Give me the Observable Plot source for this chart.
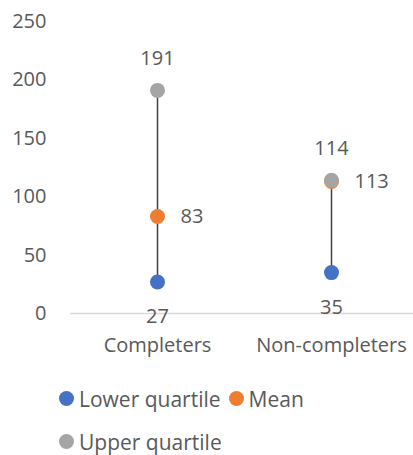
<!DOCTYPE html>
<html>
<head>
<meta charset="utf-8">
<script src="https://cdn.jsdelivr.net/npm/d3@7"></script>
<script src="https://cdn.jsdelivr.net/npm/@observablehq/plot@0.6"></script>
<style>
  body { margin: 0; background: #fff; font-family: "Open Sans", sans-serif; color: #595959; }
  #chart svg { display: block; }
  .legend { display: flex; flex-wrap: wrap; width: 280px; margin-left: 59px; margin-top: 12px; font-size: 21px; }
  .legend .item { display: flex; align-items: center; height: 43px; margin-right: 8px; }
  .legend .swatch { width: 15px; height: 15px; border-radius: 50%; margin-right: 5px; }
</style>
</head>
<body>
<div id="chart"></div>
<script>
// Quartile spread and mean per group
const categories = ["Completers", "Non-completers"];
const lowerQuartile = [27, 35];
const mean = [83, 113];
const upperQuartile = [191, 114];
const seriesNames = ["Lower quartile", "Mean", "Upper quartile"];
const seriesColors = ["#4472C4", "#ED7D31", "#A5A5A5"];
const yTicks = [0, 50, 100, 150, 200, 250];

const rows = categories.map((c, i) => ({
  category: c, lower: lowerQuartile[i], mean: mean[i], upper: upperQuartile[i]
}));
const points = rows.flatMap(r => [
  {category: r.category, series: seriesNames[0], value: r.lower},
  {category: r.category, series: seriesNames[1], value: r.mean},
  {category: r.category, series: seriesNames[2], value: r.upper}
]);

const plot = Plot.plot({
  width: 413,
  height: 365,
  marginTop: 21,
  marginBottom: 52,
  marginLeft: 70,
  marginRight: 0,
  style: {fontFamily: "Open Sans, sans-serif", fontSize: "20px", color: "#595959", background: "#fff"},
  x: {type: "point", domain: categories, range: [157, 331], padding: 0, label: null},
  y: {domain: [0, 250], ticks: yTicks, label: null},
  color: {domain: seriesNames, range: seriesColors},
  marks: [
    Plot.axisY({ticks: yTicks, tickSize: 0, tickPadding: 24, fontSize: 20, label: null}),
    Plot.axisX({tickSize: 0, tickPadding: 24, fontSize: 20, label: null}),
    Plot.ruleY([0], {stroke: "#D9D9D9", strokeWidth: 1.5}),
    Plot.ruleX(rows, {x: "category", y1: "lower", y2: "upper", stroke: "#404040", strokeWidth: 1.5}),
    Plot.dot(points, {x: "category", y: "value", fill: "series", r: 7.5}),
    Plot.text(rows, {x: "category", y: "upper", text: d => String(d.upper), dy: -32, fontSize: 20, fill: "#595959"}),
    Plot.text(rows, {x: "category", y: "lower", text: d => String(d.lower), dy: 35, fontSize: 20, fill: "#595959"}),
    Plot.text(rows, {x: "category", y: "mean", text: d => String(d.mean), dx: 23, textAnchor: "start", fontSize: 20, fill: "#595959"})
  ]
});
document.getElementById("chart").appendChild(plot);

// Legend below the chart
const legend = document.createElement("div");
legend.className = "legend";
seriesNames.forEach((name, i) => {
  const item = document.createElement("div");
  item.className = "item";
  const sw = document.createElement("span");
  sw.className = "swatch";
  sw.style.background = seriesColors[i];
  const label = document.createElement("span");
  label.textContent = name;
  item.appendChild(sw);
  item.appendChild(label);
  legend.appendChild(item);
});
document.body.appendChild(legend);
</script>
</body>
</html>
